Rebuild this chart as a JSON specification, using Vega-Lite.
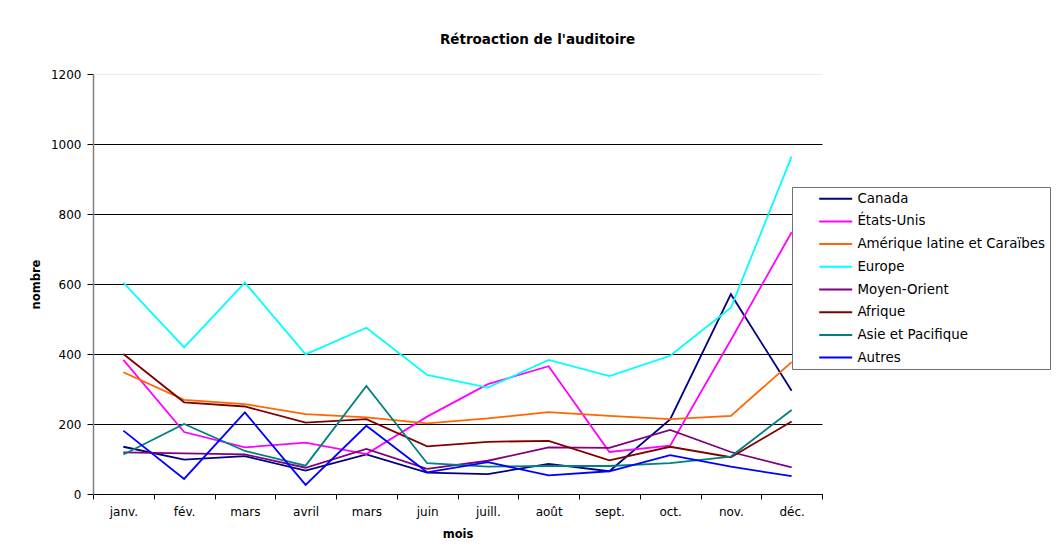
{
  "$schema": "https://vega.github.io/schema/vega-lite/v6.json",
  "autosize": {"type": "none"},
  "padding": {"left": 93, "top": 74, "right": 237, "bottom": 62},
  "width": 729,
  "height": 420,
  "background": "white",
  "title": {
    "text": "Rétroaction de l'auditoire",
    "anchor": "middle",
    "dx": 80,
    "offset": 11,
    "baseline": "alphabetic",
    "font": "DejaVu Sans",
    "fontSize": 13.5,
    "fontWeight": "bold",
    "color": "black"
  },
  "data": {
    "values": [
      {"m": 1, "r": "Canada", "v": 135}, {"m": 2, "r": "Canada", "v": 98}, {"m": 3, "r": "Canada", "v": 108}, {"m": 4, "r": "Canada", "v": 67}, {"m": 5, "r": "Canada", "v": 113}, {"m": 6, "r": "Canada", "v": 61}, {"m": 7, "r": "Canada", "v": 57}, {"m": 8, "r": "Canada", "v": 86}, {"m": 9, "r": "Canada", "v": 65}, {"m": 10, "r": "Canada", "v": 213}, {"m": 11, "r": "Canada", "v": 571}, {"m": 12, "r": "Canada", "v": 295},
      {"m": 1, "r": "États-Unis", "v": 383}, {"m": 2, "r": "États-Unis", "v": 177}, {"m": 3, "r": "États-Unis", "v": 133}, {"m": 4, "r": "États-Unis", "v": 147}, {"m": 5, "r": "États-Unis", "v": 114}, {"m": 6, "r": "États-Unis", "v": 221}, {"m": 7, "r": "États-Unis", "v": 314}, {"m": 8, "r": "États-Unis", "v": 365}, {"m": 9, "r": "États-Unis", "v": 120}, {"m": 10, "r": "États-Unis", "v": 138}, {"m": 11, "r": "États-Unis", "v": 440}, {"m": 12, "r": "États-Unis", "v": 748},
      {"m": 1, "r": "Amérique latine et Caraïbes", "v": 348}, {"m": 2, "r": "Amérique latine et Caraïbes", "v": 269}, {"m": 3, "r": "Amérique latine et Caraïbes", "v": 257}, {"m": 4, "r": "Amérique latine et Caraïbes", "v": 228}, {"m": 5, "r": "Amérique latine et Caraïbes", "v": 219}, {"m": 6, "r": "Amérique latine et Caraïbes", "v": 202}, {"m": 7, "r": "Amérique latine et Caraïbes", "v": 216}, {"m": 8, "r": "Amérique latine et Caraïbes", "v": 234}, {"m": 9, "r": "Amérique latine et Caraïbes", "v": 223}, {"m": 10, "r": "Amérique latine et Caraïbes", "v": 214}, {"m": 11, "r": "Amérique latine et Caraïbes", "v": 223}, {"m": 12, "r": "Amérique latine et Caraïbes", "v": 377},
      {"m": 1, "r": "Europe", "v": 604}, {"m": 2, "r": "Europe", "v": 419}, {"m": 3, "r": "Europe", "v": 604}, {"m": 4, "r": "Europe", "v": 399}, {"m": 5, "r": "Europe", "v": 475}, {"m": 6, "r": "Europe", "v": 340}, {"m": 7, "r": "Europe", "v": 304}, {"m": 8, "r": "Europe", "v": 383}, {"m": 9, "r": "Europe", "v": 337}, {"m": 10, "r": "Europe", "v": 395}, {"m": 11, "r": "Europe", "v": 532}, {"m": 12, "r": "Europe", "v": 964},
      {"m": 1, "r": "Moyen-Orient", "v": 119}, {"m": 2, "r": "Moyen-Orient", "v": 116}, {"m": 3, "r": "Moyen-Orient", "v": 113}, {"m": 4, "r": "Moyen-Orient", "v": 75}, {"m": 5, "r": "Moyen-Orient", "v": 129}, {"m": 6, "r": "Moyen-Orient", "v": 72}, {"m": 7, "r": "Moyen-Orient", "v": 95}, {"m": 8, "r": "Moyen-Orient", "v": 133}, {"m": 9, "r": "Moyen-Orient", "v": 132}, {"m": 10, "r": "Moyen-Orient", "v": 183}, {"m": 11, "r": "Moyen-Orient", "v": 120}, {"m": 12, "r": "Moyen-Orient", "v": 76},
      {"m": 1, "r": "Afrique", "v": 400}, {"m": 2, "r": "Afrique", "v": 262}, {"m": 3, "r": "Afrique", "v": 250}, {"m": 4, "r": "Afrique", "v": 204}, {"m": 5, "r": "Afrique", "v": 214}, {"m": 6, "r": "Afrique", "v": 136}, {"m": 7, "r": "Afrique", "v": 149}, {"m": 8, "r": "Afrique", "v": 152}, {"m": 9, "r": "Afrique", "v": 96}, {"m": 10, "r": "Afrique", "v": 135}, {"m": 11, "r": "Afrique", "v": 105}, {"m": 12, "r": "Afrique", "v": 207},
      {"m": 1, "r": "Asie et Pacifique", "v": 113}, {"m": 2, "r": "Asie et Pacifique", "v": 200}, {"m": 3, "r": "Asie et Pacifique", "v": 123}, {"m": 4, "r": "Asie et Pacifique", "v": 81}, {"m": 5, "r": "Asie et Pacifique", "v": 309}, {"m": 6, "r": "Asie et Pacifique", "v": 88}, {"m": 7, "r": "Asie et Pacifique", "v": 78}, {"m": 8, "r": "Asie et Pacifique", "v": 80}, {"m": 9, "r": "Asie et Pacifique", "v": 80}, {"m": 10, "r": "Asie et Pacifique", "v": 88}, {"m": 11, "r": "Asie et Pacifique", "v": 107}, {"m": 12, "r": "Asie et Pacifique", "v": 240},
      {"m": 1, "r": "Autres", "v": 181}, {"m": 2, "r": "Autres", "v": 43}, {"m": 3, "r": "Autres", "v": 233}, {"m": 4, "r": "Autres", "v": 26}, {"m": 5, "r": "Autres", "v": 195}, {"m": 6, "r": "Autres", "v": 62}, {"m": 7, "r": "Autres", "v": 91}, {"m": 8, "r": "Autres", "v": 53}, {"m": 9, "r": "Autres", "v": 65}, {"m": 10, "r": "Autres", "v": 111}, {"m": 11, "r": "Autres", "v": 78}, {"m": 12, "r": "Autres", "v": 51}
    ]
  },
  "mark": {"type": "line", "strokeWidth": 1.8},
  "encoding": {
    "x": {
      "field": "m",
      "type": "ordinal",
      "bandPosition": 0.5,
      "scale": {"type": "band", "paddingInner": 0, "paddingOuter": 0},
      "axis": {
        "title": "mois",
        "labelAngle": 0,
        "labelExpr": "['janv.','fév.','mars','avril','mars','juin','juill.','août','sept.','oct.','nov.','déc.'][datum.value - 1]",
        "tickBand": "extent",
        "grid": false,
        "domainColor": "black",
        "domainWidth": 1,
        "tickColor": "black",
        "tickSize": 5,
        "labelPadding": 7,
        "titlePadding": 11
      }
    },
    "y": {
      "field": "v",
      "type": "quantitative",
      "scale": {"domain": [0, 1200], "nice": false},
      "axis": {
        "title": "nombre",
        "format": "d",
        "values": [0, 200, 400, 600, 800, 1000, 1200],
        "grid": true,
        "gridColor": {"condition": {"test": "datum.value === 1200", "value": "#ececec"}, "value": "black"},
        "gridWidth": 1,
        "domainColor": "#808080",
        "domainWidth": 1.5,
        "tickColor": "black",
        "tickSize": 6,
        "labelPadding": 6,
        "titlePadding": 9
      }
    },
    "color": {
      "field": "r",
      "type": "nominal",
      "scale": {
        "domain": ["Canada", "États-Unis", "Amérique latine et Caraïbes", "Europe", "Moyen-Orient", "Afrique", "Asie et Pacifique", "Autres"],
        "range": ["#000080", "#ff00ff", "#ff6600", "#00ffff", "#800080", "#800000", "#008080", "#0000ff"]
      },
      "legend": {
        "title": null,
        "orient": "none",
        "legendX": 699,
        "legendY": 113,
        "fillColor": "white",
        "strokeColor": "#707070",
        "padding": 5,
        "symbolType": "M-3,0H3",
        "symbolSize": 121,
        "symbolStrokeWidth": 2,
        "symbolOffset": 32,
        "labelOffset": 15,
        "rowPadding": 7.7,
        "labelLimit": 300,
        "labelFont": "DejaVu Sans",
        "labelFontSize": 13.4,
        "labelColor": "black"
      }
    }
  },
  "config": {
    "view": {"stroke": null},
    "axis": {
      "labelFont": "DejaVu Sans",
      "labelFontSize": 12,
      "labelColor": "black",
      "titleFont": "DejaVu Sans",
      "titleFontSize": 11.5,
      "titleFontWeight": "bold",
      "titleColor": "black"
    }
  }
}
